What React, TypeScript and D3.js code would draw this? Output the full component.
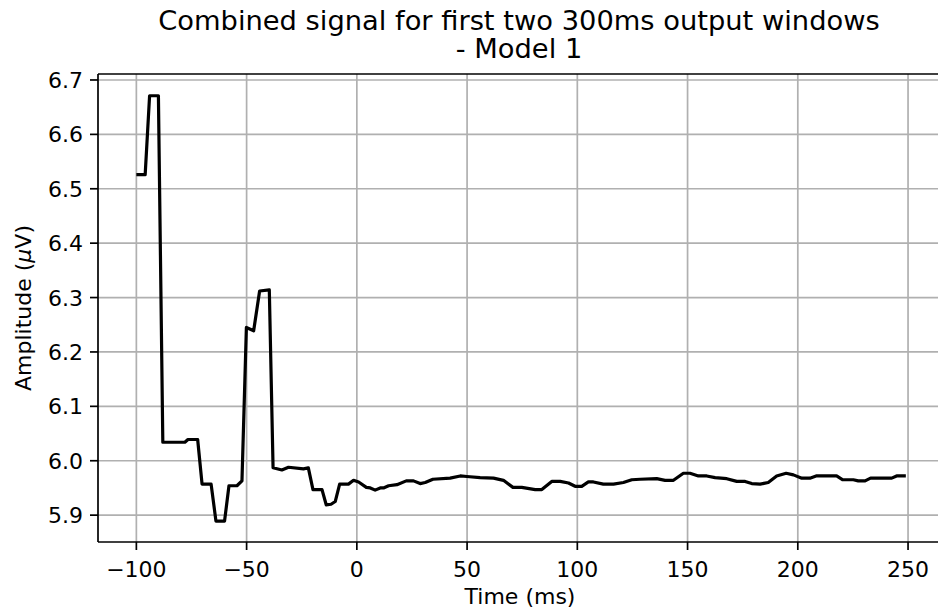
import React from "react";
import * as d3 from "d3";

const times = [
  -100, -96, -94, -90, -88, -78, -76.6, -72.2, -70.2, -66.1, -63.9, -60, -58, -54.4, -52.1,
  -50.1, -46.8, -44.1, -39.7, -38, -34, -31, -24.2, -22, -19.9, -15.8, -13.9, -11.7, -9.8,
  -7.8, -3.8, -1.5, 0.8, 4.3, 6.1, 8.3, 10.6, 12.1, 14.4, 18.2, 22.4, 25.7, 28.7, 31, 34.5,
  42.3, 46.9, 49.9, 55.9, 62, 66.5, 70.8, 74.8, 80.9, 83.9, 88.4, 92.2, 96, 99, 102, 105,
  107.3, 111.8, 116.4, 120.9, 124.7, 128.5, 136, 139.8, 143.6, 148.1, 151.1, 154.9, 158.7,
  162.5, 167.8, 172.3, 176.1, 179.1, 182.9, 186.6, 190.4, 194.7, 198, 201.8, 205.5, 208.3,
  217.6, 220.4, 225.2, 227.4, 230.5, 233, 242.6, 244.8, 249,
];
const amplitudes = [
  6.526, 6.526, 6.671, 6.671, 6.034, 6.034, 6.039, 6.039, 5.957, 5.957, 5.889, 5.889, 5.954, 5.954, 5.963,
  6.245, 6.239, 6.312, 6.314, 5.987, 5.983, 5.988, 5.985, 5.987, 5.947, 5.947, 5.919, 5.920, 5.925,
  5.957, 5.957, 5.964, 5.961, 5.951, 5.950, 5.946, 5.950, 5.950, 5.954, 5.956, 5.963, 5.963, 5.958, 5.960, 5.966,
  5.968, 5.972, 5.971, 5.969, 5.968, 5.964, 5.951, 5.951, 5.947, 5.947, 5.962, 5.962, 5.959, 5.953, 5.953, 5.961,
  5.961, 5.957, 5.957, 5.960, 5.965, 5.966, 5.967, 5.964, 5.964, 5.977, 5.977, 5.972, 5.972,
  5.969, 5.967, 5.962, 5.962, 5.958, 5.957, 5.960, 5.972, 5.977, 5.974, 5.968, 5.968, 5.972,
  5.972, 5.965, 5.965, 5.963, 5.963, 5.968, 5.968, 5.972, 5.972,
];
const xTicks = [-100, -50, 0, 50, 100, 150, 200, 250];
const yTicks = [5.9, 6.0, 6.1, 6.2, 6.3, 6.4, 6.5, 6.6, 6.7];
const titleLines = ["Combined signal for first two 300ms output windows", "- Model 1"];

const W = 938, H = 611;
const left = 98, right = 942, top = 74, bottom = 542;

export default function App() {
  const x = d3.scaleLinear().domain([-117.4, 265.4]).range([left, right]);
  const y = d3.scaleLinear().domain([5.8506, 6.711]).range([bottom, top]);
  const data = times.map((t, i) => [t, amplitudes[i]] as [number, number]);
  const line = d3.line<[number, number]>().x(d => x(d[0])).y(d => y(d[1]));
  const fmtX = (v: number) => (v < 0 ? "\u2212" + Math.abs(v) : String(v));
  const font = "DejaVu Sans, sans-serif";
  return (
    <svg width={W} height={H} style={{ position: "absolute", left: 0, top: 0, background: "#fff" }} fontFamily={font}>
      <rect x={0} y={0} width={W} height={H} fill="#fff" />
      {xTicks.map(t => (
        <line key={"gx" + t} x1={x(t)} x2={x(t)} y1={top} y2={bottom} stroke="#b0b0b0" strokeWidth={1.7} />
      ))}
      {yTicks.map(v => (
        <line key={"gy" + v} x1={left} x2={right} y1={y(v)} y2={y(v)} stroke="#b0b0b0" strokeWidth={1.7} />
      ))}
      <path d={line(data) || ""} fill="none" stroke="#000" strokeWidth={3.2} strokeLinejoin="round" />
      <line x1={left} x2={left} y1={top} y2={bottom} stroke="#000" strokeWidth={1.7} />
      <line x1={left} x2={right} y1={bottom} y2={bottom} stroke="#000" strokeWidth={1.7} />
      <line x1={left} x2={right} y1={top} y2={top} stroke="#000" strokeWidth={1.7} />
      {xTicks.map(t => (
        <g key={"tx" + t}>
          <line x1={x(t)} x2={x(t)} y1={bottom} y2={bottom + 8} stroke="#000" strokeWidth={1.7} />
          <text x={x(t)} y={577} textAnchor="middle" fontSize={22} fill="#000">{fmtX(t)}</text>
        </g>
      ))}
      {yTicks.map(v => (
        <g key={"ty" + v}>
          <line x1={left - 8} x2={left} y1={y(v)} y2={y(v)} stroke="#000" strokeWidth={1.7} />
          <text x={left - 15} y={y(v) + 8} textAnchor="end" fontSize={22} fill="#000">{v.toFixed(1)}</text>
        </g>
      ))}
      <text x={(left + right) / 2} y={604} textAnchor="middle" fontSize={22} fill="#000">Time (ms)</text>
      <text transform={`translate(31,${(top + bottom) / 2}) rotate(-90)`} textAnchor="middle" fontSize={22} fill="#000">
        Amplitude (<tspan fontStyle="italic">μ</tspan>V)
      </text>
      {titleLines.map((s, i) => (
        <text key={s} x={(left + right) / 2 - 1} y={30 + i * 28} textAnchor="middle" fontSize={27.3} fill="#000">{s}</text>
      ))}
    </svg>
  );
}
